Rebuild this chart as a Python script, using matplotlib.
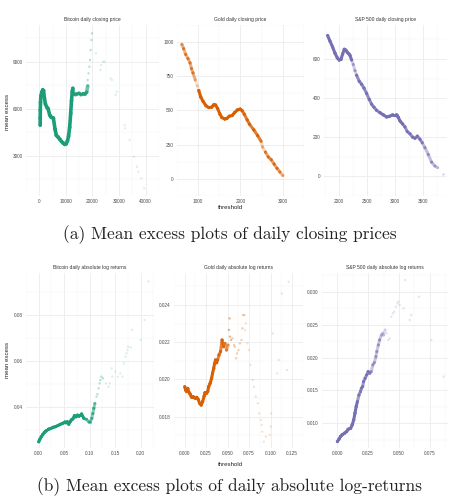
import numpy as np
import matplotlib
matplotlib.use("Agg")
import matplotlib.pyplot as plt
from matplotlib.collections import LineCollection
from matplotlib.colors import to_rgba

# ---------------- data ----------------
# (a) closing prices: dense part of the mean-excess curve
btc_price_x = [330, 350, 380, 450, 600, 900, 1300, 1600, 1900, 2300, 2800, 3300, 3900, 4500, 5300, 5900,
               6400, 7000, 7700, 8400, 9000, 9600, 10100, 10600, 11000, 11400, 11800, 12100, 12400, 12600,
               13000, 13600, 14300, 15000, 15700, 16500, 17200, 17800, 18200]
btc_price_y = [4950, 5400, 5900, 6400, 6800, 7050, 7200, 7150, 6700, 6300, 6100, 6000, 5600, 5450, 5400, 4700,
               4300, 4200, 4050, 3900, 3800, 3720, 3760, 3950, 4250, 4800, 5700, 6500, 7100, 7300,
               6950, 6900, 6950, 6980, 6900, 6950, 6930, 7050, 7450]
# sparse tail points
btc_price_tail_x = [18180, 18510, 18840, 19060, 19290, 19620, 19840, 21270, 22920, 23250, 24020, 24570,
                    26780, 27330, 28760, 29200, 32070, 32290, 33940, 35590, 36700, 37250, 38350, 39450]
btc_price_tail_y = [7830, 8255, 8681, 9106, 9745, 10383, 10809, 9532, 8468, 8787, 9000, 9000,
                    7936, 7830, 6872, 7085, 4957, 4744, 4000, 2935, 2297, 1978, 1552, 914]

gold_price_x = [616, 657, 705, 760, 808, 842, 877, 932, 979, 1014, 1062, 1116, 1185, 1253, 1322, 1370, 1411,
                1459, 1514, 1562, 1630, 1678, 1733, 1801, 1856, 1925, 1993, 2041, 2089, 2158, 2212, 2315,
                2404, 2486, 2521, 2589, 2658, 2726, 2795, 2863, 2932, 3000]
gold_price_y = [983, 952, 910, 879, 848, 806, 775, 723, 681, 646, 598, 567, 535, 521, 525, 542, 540,
                515, 473, 448, 438, 442, 458, 463, 483, 504, 510, 498, 473, 431, 400, 358,
                317, 275, 233, 196, 160, 140, 108, 77, 50, 25]
gold_price_tail_x = []
gold_price_tail_y = []

sp_price_x = [1792, 1833, 1881, 1923, 1964, 2000, 2030, 2060, 2089, 2119, 2143, 2173, 2190, 2220, 2250, 2280,
              2309, 2357, 2399, 2440, 2488, 2536, 2577, 2619, 2666, 2726, 2785, 2845, 2893, 2952, 3023, 3053,
              3083, 3131, 3172, 3214, 3262, 3309, 3351, 3393, 3440, 3482, 3529, 3589, 3648, 3708, 3755]
sp_price_y = [720, 692, 661, 630, 606, 595, 598, 626, 650, 645, 634, 626, 619, 595, 572, 541,
              517, 486, 471, 452, 424, 393, 369, 354, 338, 326, 315, 304, 307, 315, 315, 302,
              284, 268, 253, 229, 218, 201, 195, 206, 190, 172, 147, 112, 73, 53, 45]
sp_price_tail_x = [3856]
sp_price_tail_y = [11]

# (b) absolute log-returns
btc_ret_x = [0, 0.0019, 0.005, 0.008, 0.011, 0.0142, 0.0192, 0.0235, 0.0279, 0.0328, 0.0378, 0.042, 0.0464,
             0.0514, 0.053, 0.056, 0.0588, 0.0613, 0.0638, 0.0669, 0.07, 0.073, 0.076, 0.079, 0.082, 0.084,
             0.0885, 0.0935, 0.098, 0.101, 0.104, 0.106, 0.108, 0.110]
btc_ret_y = [0.0247, 0.0257, 0.0269, 0.0279, 0.0288, 0.0294, 0.0302, 0.0305, 0.031, 0.0313, 0.0318, 0.0323,
             0.0327, 0.0333, 0.033, 0.0334, 0.0324, 0.0334, 0.0342, 0.0347, 0.0361, 0.0356, 0.0363, 0.0359,
             0.0363, 0.0368, 0.0349, 0.0345, 0.0334, 0.0334, 0.0349, 0.037, 0.0393, 0.0414]
btc_ret_tail_x = [0.1133, 0.1151, 0.1176, 0.1195, 0.1207, 0.1226, 0.1257, 0.1318, 0.1368, 0.1393, 0.1430,
                  0.1442, 0.1504, 0.1554, 0.1597, 0.1640, 0.1671, 0.1702, 0.1721, 0.1739, 0.1752, 0.1801,
                  0.1832, 0.2000, 0.2074, 0.2154]
btc_ret_tail_y = [0.0444, 0.0455, 0.0480, 0.0502, 0.0516, 0.0531, 0.0524, 0.0502, 0.0487, 0.0502, 0.0567,
                  0.0531, 0.0553, 0.0531, 0.0545, 0.0531, 0.0589, 0.0618, 0.0633, 0.0647, 0.0662, 0.0659,
                  0.0735, 0.0691, 0.0778, 0.0946]

gold_ret_x = [0, 0.001, 0.0024, 0.0035, 0.0045, 0.0062, 0.0076, 0.0097, 0.0121, 0.0139, 0.0156, 0.0174,
              0.0191, 0.0208, 0.0226, 0.0236, 0.0253, 0.0267, 0.0278, 0.0295, 0.0312, 0.0323, 0.0337, 0.0347,
              0.0357, 0.0371, 0.0382, 0.0399, 0.0416, 0.0434, 0.0451, 0.0468, 0.0486, 0.0503]
gold_ret_y = [0.01961, 0.01943, 0.01935, 0.01952, 0.01935, 0.01922, 0.01908, 0.01908, 0.01899, 0.01904,
              0.01893, 0.01872, 0.01863, 0.01881, 0.01911, 0.01929, 0.01926, 0.01935, 0.01961, 0.01979,
              0.02006, 0.02033, 0.0206, 0.02087, 0.02105, 0.0209, 0.02105, 0.02132, 0.0215, 0.02212,
              0.02176, 0.02194, 0.02158, 0.02185]
gold_ret_tail_x = [0.0514, 0.0521, 0.0527, 0.0538, 0.0555, 0.0573, 0.0583, 0.0597, 0.0607, 0.0625, 0.0642,
                   0.0659, 0.0670, 0.0677, 0.0694, 0.0701, 0.0711, 0.0729, 0.0746, 0.0763, 0.0791, 0.0805,
                   0.0826, 0.0850, 0.0868, 0.0885, 0.0895, 0.0902, 0.0920, 0.0944, 0.0989, 0.0999, 0.1006,
                   0.1024, 0.1076, 0.1093, 0.1128, 0.1190, 0.1208]
gold_ret_tail_y = [0.02266, 0.02328, 0.0223, 0.02212, 0.02221, 0.02185, 0.02176, 0.02114, 0.0214, 0.02158,
                   0.02194, 0.02212, 0.02275, 0.02346, 0.02346, 0.02266, 0.02302, 0.02194, 0.02158, 0.02078,
                   0.01997, 0.01961, 0.01908, 0.01872, 0.01818, 0.01782, 0.01756, 0.0172, 0.01666, 0.01693,
                   0.01702, 0.01747, 0.01818, 0.02248, 0.02033, 0.02105, 0.02463, 0.02051, 0.02525]

sp_ret_x = [0, 0.00125, 0.0025, 0.00375, 0.00575, 0.0075, 0.00875, 0.01075, 0.012, 0.01325, 0.01425,
            0.01525, 0.01625, 0.0175, 0.01875, 0.0195, 0.0205, 0.02125, 0.0225, 0.02375, 0.025, 0.02625,
            0.0275, 0.02875, 0.03, 0.03125, 0.032, 0.03325, 0.03425, 0.03575, 0.03675, 0.0375, 0.03875]
sp_ret_y = [0.00723, 0.00758, 0.008, 0.00824, 0.0085, 0.00875, 0.0091, 0.00925, 0.00976, 0.01052, 0.01153,
            0.01254, 0.0133, 0.01431, 0.01482, 0.01533, 0.01558, 0.01634, 0.01684, 0.01735, 0.01786, 0.0176,
            0.01786, 0.01887, 0.01922, 0.02013, 0.02089, 0.0219, 0.02266, 0.02342, 0.02368, 0.02342, 0.02418]
sp_ret_tail_x = [0.04, 0.04125, 0.0425, 0.04375, 0.045, 0.04625, 0.0475, 0.04875, 0.0495, 0.0505, 0.05375,
                 0.055, 0.05875, 0.06, 0.06625, 0.07625, 0.08625]
sp_ret_tail_y = [0.02368, 0.02266, 0.02290, 0.0262, 0.02671, 0.02696, 0.02772, 0.02823, 0.02848, 0.02798,
                 0.02747, 0.03177, 0.0257, 0.02646, 0.02924, 0.02266, 0.0171]

titles_a = ["Bitcoin daily closing price", "Gold daily closing price", "S&P 500 daily closing price"]
titles_b = ["Bitcoin daily absolute log returns", "Gold daily absolute log returns",
            "S&P 500 daily absolute log returns"]
caption_a = "(a) Mean excess plots of daily closing prices"
caption_b = "(b) Mean excess plots of daily absolute log-returns"

# ---------------- styling ----------------
GREEN, ORANGE, PURPLE = "#1B9E77", "#D95F02", "#7570B3"
W, H = 460, 500
SANS = ["Liberation Sans", "DejaVu Sans"]
plt.rcParams["font.family"] = SANS

fig = plt.figure(figsize=(W / 100, H / 100), dpi=100)


def px_axes(l, r, t, b):
    return fig.add_axes([l / W, 1 - b / H, (r - l) / W, (b - t) / H])


def fade(xs, stops):
    out = []
    for v in xs:
        a = stops[-1][1]
        for lim, al in stops:
            if v < lim:
                a = al
                break
        out.append(a)
    return np.array(out)


def panel(rect, xlim, ylim, xmaj, ymaj, xfmt, yfmt, cx, cy, tx, ty, color, stops, title, lw=2.2):
    ax = px_axes(*rect)
    ax.set_xlim(*xlim)
    ax.set_ylim(*ylim)
    for s in ax.spines.values():
        s.set_visible(False)
    ax.set_xticks(xmaj)
    ax.set_yticks(ymaj)
    dx = xmaj[1] - xmaj[0]
    dy = ymaj[1] - ymaj[0]
    xmin_t = [v + dx / 2 for v in [xmaj[0] - dx] + list(xmaj)]
    ymin_t = [v + dy / 2 for v in [ymaj[0] - dy] + list(ymaj)]
    ax.set_xticks(xmin_t, minor=True)
    ax.set_yticks(ymin_t, minor=True)
    ax.set_xticklabels([xfmt.format(v) for v in xmaj])
    ax.set_yticklabels([yfmt.format(v) for v in ymaj])
    ax.tick_params(which="both", length=0, labelsize=3.4, colors="#4d4d4d", pad=2.5)
    ax.grid(which="major", color="#ebebeb", lw=0.6)
    ax.grid(which="minor", color="#f3f3f3", lw=0.35)
    ax.set_axisbelow(True)
    # dense curve
    cx = np.asarray(cx, float)
    cy = np.asarray(cy, float)
    al = fade(cx, stops)
    base = np.array(to_rgba(color))
    segs = np.stack([np.column_stack([cx[:-1], cy[:-1]]), np.column_stack([cx[1:], cy[1:]])], axis=1)
    cols = np.tile(base, (len(segs), 1))
    cols[:, 3] = al[:-1]
    ax.add_collection(LineCollection(segs, colors=cols, linewidths=lw, capstyle="round", zorder=3))
    pc = np.tile(base, (len(cx), 1))
    pc[:, 3] = al
    ax.scatter(cx, cy, s=lw * 2.2, c=pc, linewidths=0, zorder=4)
    # sparse tail
    if len(tx):
        tcol = np.tile(base, (len(tx), 1))
        tcol[:, 3] = fade(tx, stops)
        ax.scatter(tx, ty, s=3.0, c=tcol, linewidths=0, zorder=4)
    ax.set_title(title, fontsize=3.6, color="#333333", pad=3)
    return ax


# top row (a)
panel((26, 159, 25, 196), (-2000, 42000), (428, 11342), [0, 10000, 20000, 30000, 40000], [3000, 6000, 9000],
      "{:.0f}", "{:.0f}", btc_price_x, btc_price_y, btc_price_tail_x, btc_price_tail_y, GREEN,
      [(12500, 1.0), (18000, 0.6), (20000, 0.3), (1e9, 0.15)], titles_a[0], lw=2.6)
panel((177, 304, 25, 196), (500, 3120), (-33, 1036), [1000, 2000, 3000], [0, 250, 500, 750, 1000],
      "{:.0f}", "{:.0f}", gold_price_x, gold_price_y, gold_price_tail_x, gold_price_tail_y, ORANGE,
      [(880, 0.5), (1000, 0.15), (2000, 1.0), (2450, 0.8), (2560, 0.25), (2900, 0.6), (1e9, 0.4)],
      titles_a[1])
panel((324, 447, 25, 196), (1727, 3923), (-25, 774), [2000, 2500, 3000, 3500], [0, 200, 400, 600],
      "{:.0f}", "{:.0f}", sp_price_x, sp_price_y, sp_price_tail_x, sp_price_tail_y, PURPLE,
      [(2200, 1.0), (2300, 0.35), (2700, 0.8), (3100, 1.0), (3450, 0.75), (3650, 0.45), (1e9, 0.3)],
      titles_a[2])

# bottom row (b)
panel((26, 154, 273, 448), (-0.0111, 0.226), (0.022, 0.0983), [0, 0.05, 0.10, 0.15, 0.20], [0.04, 0.06, 0.08],
      "{:.2f}", "{:.2f}", btc_ret_x, btc_ret_y, btc_ret_tail_x, btc_ret_tail_y, GREEN,
      [(0.085, 1.0), (0.112, 0.5), (0.13, 0.3), (1e9, 0.15)], titles_b[0])
panel((174, 303, 273, 448), (-0.00625, 0.128), (0.01632, 0.02572),
      [0, 0.025, 0.05, 0.075, 0.1, 0.125], [0.018, 0.020, 0.022, 0.024],
      "{:.3f}", "{:.3f}", gold_ret_x, gold_ret_y, gold_ret_tail_x, gold_ret_tail_y, ORANGE,
      [(0.034, 1.0), (0.045, 0.75), (0.055, 0.45), (0.07, 0.3), (1e9, 0.18)], titles_b[1])
panel((322, 448, 273, 448), (-0.0047, 0.0898), (0.00625, 0.03284), [0, 0.025, 0.05, 0.075],
      [0.010, 0.015, 0.020, 0.025, 0.030],
      "{:.3f}", "{:.3f}", sp_ret_x, sp_ret_y, sp_ret_tail_x, sp_ret_tail_y, PURPLE,
      [(0.016, 1.0), (0.026, 0.7), (0.035, 0.4), (1e9, 0.18)], titles_b[2])

# shared labels
for yc in (112, 360):
    fig.text(8 / W, 1 - yc / H, "mean excess", rotation=90, ha="center", va="center", fontsize=4.4,
             color="#222222")
for yc in (208, 465):
    fig.text(230 / W, 1 - yc / H, "threshold", ha="center", va="center", fontsize=4.4, color="#222222")

fig.text(230 / W, 1 - 235 / H, caption_a, ha="center", va="center", fontsize=12.5, family="cmr10",
         color="#222222")
fig.text(230 / W, 1 - 487 / H, caption_b, ha="center", va="center", fontsize=12.5, family="cmr10",
         color="#222222")

fig.savefig("out.png", dpi=100)
